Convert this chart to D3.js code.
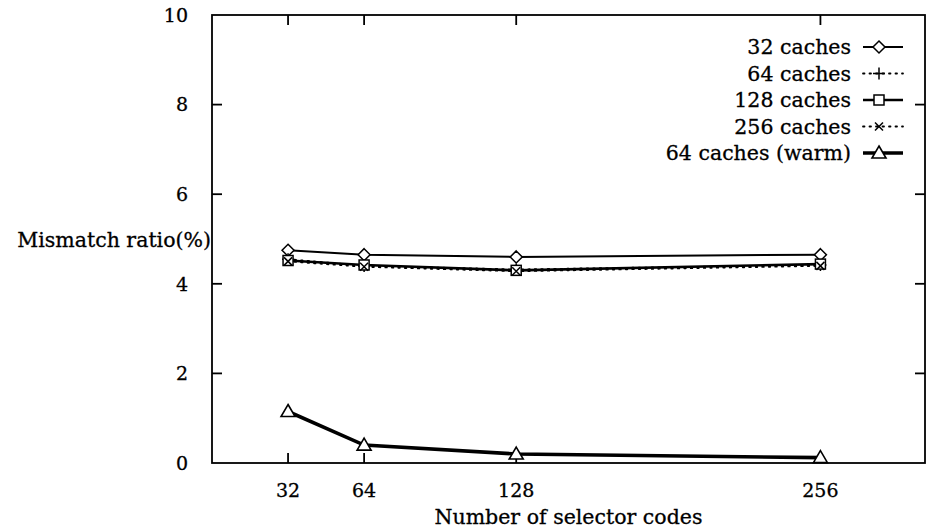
<!DOCTYPE html>
<html>
<head>
<meta charset="utf-8">
<script src="https://cdn.jsdelivr.net/npm/d3@7"></script>
<style>
  body { margin: 0; background: #fff; }
  text { font-family: "DejaVu Serif", serif; fill: #000; stroke: #000; stroke-width: 0.3px; }
</style>
</head>
<body>
<svg id="chart"></svg>
<script>
// Data
const selectorCodes = [32, 64, 128, 256];
const caches32 = [4.75, 4.65, 4.6, 4.65];
const caches64 = [4.55, 4.4, 4.32, 4.42];
const caches128 = [4.52, 4.42, 4.3, 4.44];
const caches256 = [4.5, 4.38, 4.28, 4.4];
const caches64Warm = [1.15, 0.4, 0.2, 0.12];
const yTicks = [0, 2, 4, 6, 8, 10];

const seriesNames = ["32 caches", "64 caches", "128 caches", "256 caches", "64 caches (warm)"];
const seriesValues = [caches32, caches64, caches128, caches256, caches64Warm];

const width = 930, height = 531;
const margin = { left: 212, right: 5, top: 15, bottom: 68 };
const labelSize = 20.5;
const numSize = 19;

const svg = d3.select("#chart")
    .attr("width", width)
    .attr("height", height);

const x = d3.scaleLinear().domain([0, 300]).range([margin.left, width - margin.right]);
const y = d3.scaleLinear().domain([0, 10]).range([height - margin.bottom, margin.top]);

// line / marker style per series
const styles = [
    { dash: null, width: 2, marker: "diamond" },
    { dash: "1.5,5", width: 1.8, marker: "plus" },
    { dash: null, width: 2.6, marker: "square" },
    { dash: "1.5,5", width: 1.8, marker: "cross" },
    { dash: null, width: 3.6, marker: "triangle" }
];

function drawMarker(g, type, cx, cy) {
    const s = 6;
    if (type === "diamond") {
        g.append("path").attr("d", `M${cx},${cy - s}L${cx + s},${cy}L${cx},${cy + s}L${cx - s},${cy}Z`)
            .attr("fill", "#fff").attr("stroke", "#000").attr("stroke-width", 1.5);
    } else if (type === "plus") {
        g.append("path").attr("d", `M${cx - s},${cy}H${cx + s}M${cx},${cy - s}V${cy + s}`)
            .attr("stroke", "#000").attr("stroke-width", 1.5);
    } else if (type === "square") {
        g.append("rect").attr("x", cx - 5).attr("y", cy - 5).attr("width", 10).attr("height", 10)
            .attr("fill", "#fff").attr("stroke", "#000").attr("stroke-width", 1.5);
    } else if (type === "cross") {
        g.append("path").attr("d", `M${cx - 4},${cy - 4}L${cx + 4},${cy + 4}M${cx - 4},${cy + 4}L${cx + 4},${cy - 4}`)
            .attr("stroke", "#000").attr("stroke-width", 1.5);
    } else if (type === "triangle") {
        g.append("path").attr("d", `M${cx},${cy - 7}L${cx + 7},${cy + 5}L${cx - 7},${cy + 5}Z`)
            .attr("fill", "#fff").attr("stroke", "#000").attr("stroke-width", 1.6);
    }
}

// frame
svg.append("rect")
    .attr("x", x(0)).attr("y", y(10))
    .attr("width", x(300) - x(0)).attr("height", y(0) - y(10))
    .attr("fill", "none").attr("stroke", "#000").attr("stroke-width", 1.8);

// inward ticks on all four sides
const tickLen = 10;
const axes = svg.append("g").attr("stroke", "#000").attr("stroke-width", 1.8);
yTicks.filter(t => t > 0 && t < 10).forEach(t => {
    axes.append("line").attr("x1", x(0)).attr("x2", x(0) + tickLen).attr("y1", y(t)).attr("y2", y(t));
    axes.append("line").attr("x1", x(300)).attr("x2", x(300) - tickLen).attr("y1", y(t)).attr("y2", y(t));
});
selectorCodes.forEach(c => {
    axes.append("line").attr("x1", x(c)).attr("x2", x(c)).attr("y1", y(0)).attr("y2", y(0) - tickLen);
    axes.append("line").attr("x1", x(c)).attr("x2", x(c)).attr("y1", y(10)).attr("y2", y(10) + tickLen);
});

// tick labels
svg.append("g").selectAll("text")
    .data(yTicks)
    .join("text")
    .attr("x", x(0) - 24)
    .attr("y", d => y(d))
    .attr("dy", "0.36em")
    .attr("text-anchor", "end")
    .attr("font-size", numSize)
    .text(d => d);

svg.append("g").selectAll("text")
    .data(selectorCodes)
    .join("text")
    .attr("x", d => x(d))
    .attr("y", 497)
    .attr("text-anchor", "middle")
    .attr("font-size", numSize)
    .text(d => d);

// axis titles
svg.append("text")
    .attr("x", (x(0) + x(300)) / 2)
    .attr("y", 524)
    .attr("text-anchor", "middle")
    .attr("font-size", labelSize)
    .text("Number of selector codes");

svg.append("text")
    .attr("x", x(0) - 1)
    .attr("y", 247)
    .attr("text-anchor", "end")
    .attr("font-size", labelSize)
    .text("Mismatch ratio(%)");

// lines and markers
const line = d3.line().x(d => x(d[0])).y(d => y(d[1]));
const plot = svg.append("g");
seriesValues.forEach((vals, i) => {
    const pts = selectorCodes.map((c, j) => [c, vals[j]]);
    plot.append("path")
        .attr("d", line(pts))
        .attr("fill", "none")
        .attr("stroke", "#000")
        .attr("stroke-width", styles[i].width)
        .attr("stroke-dasharray", styles[i].dash)
        .attr("stroke-linecap", styles[i].dash ? "round" : "butt");
});
seriesValues.forEach((vals, i) => {
    const g = plot.append("g");
    selectorCodes.forEach((c, j) => drawMarker(g, styles[i].marker, x(c), y(vals[j])));
});

// legend
const legend = svg.append("g");
seriesNames.forEach((name, i) => {
    const ly = 47 + i * 26.5;
    legend.append("text")
        .attr("x", 851).attr("y", ly).attr("dy", "0.36em")
        .attr("text-anchor", "end").attr("font-size", labelSize)
        .text(name);
    legend.append("line")
        .attr("x1", 863).attr("x2", 903).attr("y1", ly).attr("y2", ly)
        .attr("stroke", "#000")
        .attr("stroke-width", styles[i].width)
        .attr("stroke-dasharray", styles[i].dash)
        .attr("stroke-linecap", styles[i].dash ? "round" : "butt");
    drawMarker(legend, styles[i].marker, 879, ly);
});
</script>
</body>
</html>
